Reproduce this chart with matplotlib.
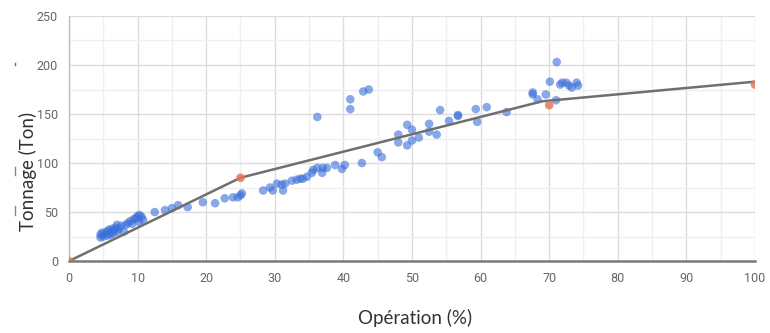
import matplotlib
matplotlib.use("Agg")
import matplotlib.pyplot as plt
import matplotlib.ticker as ticker
from matplotlib.lines import Line2D

# Mesures (bleu)
ope_mes = [4.6, 4.6, 4.8, 5.0, 5.2, 5.5, 5.6, 5.8, 6.0, 6.1, 6.3, 6.4, 6.6, 6.8, 7.0, 7.0,
           7.3, 7.6, 8.0, 8.3, 8.6, 9.0, 9.2, 9.5, 9.8, 10.0, 10.3, 10.6, 10.8, 10.2,
           12.5, 14.0, 15.0, 15.9, 17.3, 19.5, 21.3, 22.7, 23.9, 25.0, 24.6, 25.2,
           28.3, 29.3, 29.7, 30.3, 31.0, 31.2, 31.5, 32.5, 33.2, 33.7, 34.1, 34.7,
           35.4, 35.6, 36.2, 36.9, 37.0, 37.6, 38.8, 39.8, 40.2, 42.7, 45.0,
           36.2, 41.0, 41.0, 42.9, 43.7,
           45.6, 48.0, 48.0, 49.3, 49.3, 50.0, 50.0, 51.0, 52.5, 52.5, 53.6, 54.1,
           55.4, 56.7, 56.7, 59.3, 59.5, 60.9,
           63.8, 67.6, 67.6, 68.3, 69.5, 70.1, 71.1, 71.0, 71.6, 71.9, 72.5, 72.9,
           73.3, 74.0, 74.2]
ton_mes = [24, 27, 29, 25, 28, 30, 26, 32, 27, 30, 33, 28, 31, 34, 30, 37,
           33, 36, 30, 37, 39, 41, 38, 43, 44, 46, 47, 45, 42, 40,
           50, 52, 54, 57, 55, 60, 59, 64, 65, 67, 65, 69,
           72, 75, 72, 79, 78, 72, 79, 82, 83, 84, 84, 86,
           90, 93, 95, 90, 95, 95, 98, 94, 98, 100, 111,
           147, 155, 165, 173, 175,
           106, 129, 121, 139, 118, 134, 123, 126, 140, 132, 129, 154,
           143, 149, 148, 155, 142, 157,
           152, 172, 170, 165, 170, 183, 203, 164, 180, 182, 182, 179,
           177, 182, 179]

# Points de référence (rouge)
ope_ref = [0, 25, 70, 100]
ton_ref = [0, 85, 159, 180]

# Courbe
ope_courbe = [0, 25, 69, 100]
ton_courbe = [0, 85, 163, 183]

fig = plt.figure(figsize=(7.7, 3.33), dpi=100)
ax = fig.add_axes([0.0896, 0.216, 0.8909, 0.736])

ax.scatter(ope_mes, ton_mes, s=38, color="#3b6fd9", alpha=0.6, edgecolors="none", zorder=3)
ax.scatter(ope_ref, ton_ref, s=38, color="#e8765c", alpha=0.85, edgecolors="none", zorder=5)
ax.plot(ope_courbe, ton_courbe, color="#6f6f6f", linewidth=1.8, zorder=4)

ax.set_xlim(0, 100)
ax.set_ylim(0, 250)
ax.xaxis.set_major_locator(ticker.MultipleLocator(10))
ax.xaxis.set_minor_locator(ticker.MultipleLocator(5))
ax.yaxis.set_major_locator(ticker.MultipleLocator(50))
ax.yaxis.set_minor_locator(ticker.MultipleLocator(25))
ax.grid(which="major", color="#dcdcdc", linewidth=1.0, zorder=0)
ax.grid(which="minor", color="#efefef", linewidth=1.0, zorder=0)
ax.set_axisbelow(True)

for s in ["top", "right"]:
    ax.spines[s].set_visible(False)
ax.spines["left"].set_color("#bdbdbd")
ax.spines["left"].set_linewidth(1.0)
ax.spines["bottom"].set_color("#7a7a7a")
ax.spines["bottom"].set_linewidth(1.8)

ax.tick_params(which="both", length=0)
ax.tick_params(axis="x", pad=8)
ax.tick_params(axis="y", pad=8)
for lab in ax.get_xticklabels() + ax.get_yticklabels():
    lab.set_fontfamily("Roboto")
    lab.set_fontsize(9)
    lab.set_fontstretch("condensed")
    lab.set_color("#666666")

fig.text(0.036, 0.485, "Tonnage (Ton)", rotation=90, ha="center", va="center",
         fontsize=13.5, color="#333333", family="Lato")
fig.text(0.539, 0.045, "Opération (%)", ha="center", va="center",
         fontsize=13.5, color="#333333", family="Lato")

# petites marques à gauche
fig.add_artist(Line2D([0.0195, 0.0195], [0.805, 0.812], color="#3b6fd9", lw=1))
fig.add_artist(Line2D([0.0195, 0.0195], [0.475, 0.500], color="#c07070", lw=1))
fig.add_artist(Line2D([0.0195, 0.0195], [0.355, 0.380], color="#c07070", lw=1))

fig.savefig("out.png", dpi=100)
